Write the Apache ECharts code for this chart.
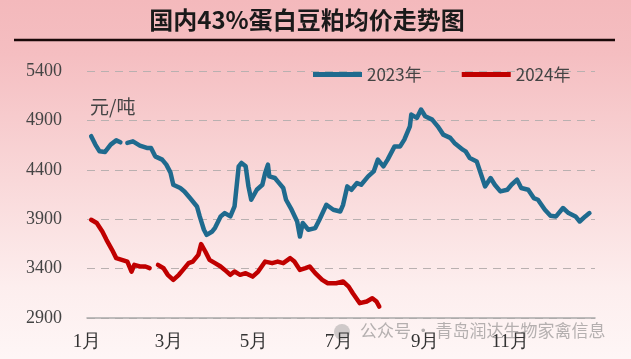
<!DOCTYPE html>
<html>
<head>
<meta charset="utf-8">
<script src="https://cdn.jsdelivr.net/npm/echarts@6/dist/echarts.min.js"></script>
<style>html,body{margin:0;padding:0;}#c{width:631px;height:359px;}</style>
</head>
<body>
<div id="c"></div>
<script>
// ---- data (day of year, price 元/吨) ----
const title = '国内43%蛋白豆粕均价走势图';
const unitLabel = '元/吨';
const seriesNames = ['2023年', '2024年'];
const monthStartDays = [0, 59, 120, 181, 243, 304];
const monthLabels = ['1月', '3月', '5月', '7月', '9月', '11月'];
const yTicks = [2900, 3400, 3900, 4400, 4900, 5400];

const days2023 = [3,6,9,13,17,21,24,26,29,33,38,43,46,49,54,57,60,62,67,70,74,79,81,84,86,90,92,96,99,103,106,109,111,114,116,118,122,126,128,130,131,135,137,141,143,147,151,153,155,159,164,167,172,177,182,184,187,190,194,197,202,206,209,213,216,221,225,228,232,233,237,240,243,248,252,256,261,264,270,272,275,280,284,286,290,293,297,302,305,309,312,317,321,324,329,333,337,342,346,351,354,358,361];
const price2023 = [4740,4655,4587,4581,4655,4698,4678,null,4672,4688,4645,4621,4621,4536,4503,4452,4371,4249,4216,4181,4114,4029,3928,3793,3742,3776,3813,3928,3962,3928,4029,4435,4469,4435,4232,4097,4198,4249,4368,4452,4333,4317,4283,4216,4097,3996,3877,3725,3861,3793,3810,3894,4046,3996,3978,4046,4232,4198,4266,4249,4333,4384,4503,4435,4503,4637,4637,4705,4840,4959,4925,5010,4942,4908,4840,4756,4723,4672,4604,4587,4520,4485,4317,4232,4317,4249,4181,4198,4249,4300,4216,4198,4114,4097,3996,3935,3928,4013,3962,3928,3877,3928,3962];

const days2024 = [3,7,11,14,18,21,25,29,32,34,38,42,45,48,51,55,58,62,66,69,73,76,80,82,85,88,92,96,99,103,106,110,114,119,123,128,133,137,141,146,149,153,157,160,164,169,173,179,184,188,191,196,201,205,208,210];
const price2024 = [3894,3861,3776,3691,3590,3506,3489,3471,3370,3438,3421,3421,3404,null,3438,3404,3337,3286,3337,3387,3455,3471,3539,3648,3573,3489,3455,3421,3387,3337,3370,3337,3354,3319,3370,3471,3455,3471,3455,3506,3471,3387,3404,3421,3354,3286,3252,3252,3269,3218,3151,3050,3067,3100,3067,3015];

const watermark = '公众号 · 青岛润达生物家禽信息';

function pairs(d, v) { return d.map((x, i) => [x, v[i] == null ? '-' : v[i]]); }

const chart = echarts.init(document.getElementById('c'), null, { renderer: 'canvas' });
chart.setOption({
  animation: false,
  backgroundColor: {
    type: 'linear', x: 0, y: 0, x2: 0, y2: 1,
    colorStops: [
      { offset: 0, color: '#f4b9bc' },
      { offset: 0.15, color: '#f5bec1' },
      { offset: 0.5, color: '#f9d8d9' },
      { offset: 0.8, color: '#fdeeee' },
      { offset: 1, color: '#fef6f6' }
    ]
  },
  title: {
    text: title, left: 302, top: 3, textAlign: 'center',
    textStyle: { fontFamily: 'Noto Sans CJK SC', fontSize: 24, fontWeight: 'bold', color: '#1a1a1a' }
  },
  legend: {
    left: 308, top: 61, itemWidth: 49, itemHeight: 5, itemGap: 40, icon: 'rect',
    textStyle: { fontFamily: 'Noto Sans CJK SC', fontSize: 17, color: '#444' },
    data: seriesNames
  },
  grid: { left: 87, right: 36, top: 71, bottom: 41, containLabel: false },
  xAxis: {
    type: 'value', min: 0, max: 365,
    splitLine: { show: false },
    axisLine: { lineStyle: { color: '#a9a9a9', width: 1.5 } },
    axisTick: { show: false },
    axisLabel: {
      customValues: monthStartDays,
      formatter: v => monthLabels[monthStartDays.indexOf(v)] || '',
      margin: 15, fontFamily: 'Liberation Serif', fontSize: 19, color: '#333'
    }
  },
  yAxis: {
    type: 'value', min: yTicks[0], max: yTicks[yTicks.length - 1], interval: 500,
    axisLine: { show: false }, axisTick: { show: false },
    axisLabel: { margin: 25, fontFamily: 'Liberation Serif', fontSize: 18, color: '#444', formatter: v => String(v) },
    splitLine: { lineStyle: { type: [8, 6], color: '#b9b0b0', width: 1 } }
  },
  graphic: [
    { type: 'line', shape: { x1: 14, y1: 40, x2: 615, y2: 40 }, style: { stroke: '#1a0808', lineWidth: 2.5 } },
    { type: 'text', left: 90, top: 97, style: { text: unitLabel, fontFamily: 'Noto Sans CJK SC', fontSize: 19, fill: '#444' } },
    { type: 'circle', shape: { cx: 342, cy: 332, r: 8 }, style: { fill: 'rgba(150,150,150,0.45)' } },
    { type: 'text', left: 360, top: 322, style: { text: watermark, fontFamily: 'Noto Sans CJK SC', fontSize: 17, fill: 'rgba(120,120,120,0.55)' } }
  ],
  series: [
    {
      name: seriesNames[0], type: 'line', data: pairs(days2023, price2023),
      showSymbol: false, connectNulls: false,
      lineStyle: { color: '#1f6a8e', width: 4.5, cap: 'round', join: 'round' },
      itemStyle: { color: '#1f6a8e' }
    },
    {
      name: seriesNames[1], type: 'line', data: pairs(days2024, price2024),
      showSymbol: false, connectNulls: false,
      lineStyle: { color: '#c00000', width: 4.5, cap: 'round', join: 'round' },
      itemStyle: { color: '#c00000' }
    }
  ]
});
</script>
</body>
</html>
